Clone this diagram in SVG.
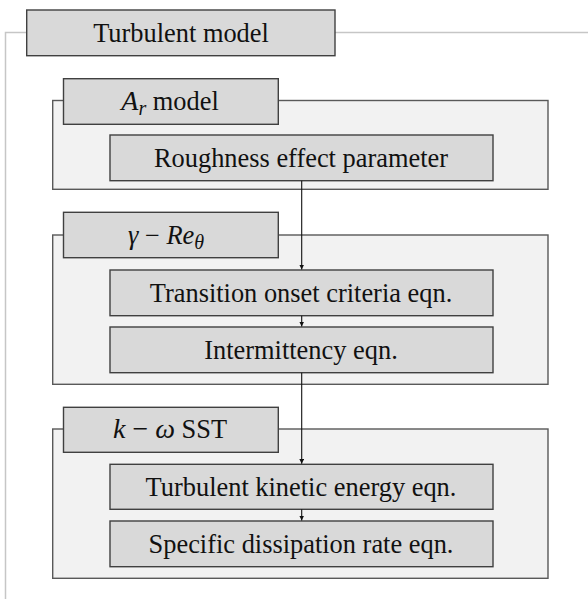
<svg xmlns="http://www.w3.org/2000/svg" width="588" height="599" viewBox="0 0 588 599">
<style>
.frame{fill:none;stroke:#c6c6c6;stroke-width:1.5}
.cont{fill:#f2f2f2;stroke:#595959;stroke-width:1.4}
.box{fill:#d9d9d9;stroke:#404040;stroke-width:1.4}
text{font-family:"Liberation Serif","Times New Roman",serif;font-size:26.4px;fill:#111;text-anchor:middle}
.m{font-style:italic}
.conn{stroke:#111;stroke-width:1.1;fill:none}
</style>
<defs>
<marker id="ah" viewBox="0 0 8 8" refX="8" refY="4" markerWidth="5" markerHeight="5" markerUnits="userSpaceOnUse" orient="auto">
<path d="M0,0 L8,4 L0,8 z" fill="#111"/>
</marker>
</defs>
<path class="frame" d="M588,32.5 H5.5 V599"/>
<g id="title">
<rect class="box" x="26.7" y="10" width="308.3" height="45.7"/>
<text x="181" y="42">Turbulent model</text>
</g>
<g id="ar-group">
<rect class="cont" x="52.7" y="100.5" width="495.3" height="88.8"/>
<rect class="box" x="63.5" y="78.7" width="214.8" height="45.6"/>
<text x="170" y="110"><tspan class="m" font-size="28">A</tspan><tspan class="m" font-size="20" dy="5">r</tspan><tspan dy="-5"> model</tspan></text>
</g>
<g id="roughness">
<rect class="box" x="110" y="135" width="383" height="45.7"/>
<text x="301" y="167">Roughness effect parameter</text>
</g>
<g id="gamma-group">
<rect class="cont" x="52.7" y="235" width="495.3" height="149.3"/>
<rect class="box" x="63.5" y="212.3" width="214.8" height="45.4"/>
<text x="166" y="244" font-size="28"><tspan class="m">γ</tspan><tspan> − </tspan><tspan class="m">Re</tspan><tspan class="m" font-size="20" dy="5">θ</tspan></text>
</g>
<g id="transition">
<rect class="box" x="110" y="270" width="383" height="45.7"/>
<text x="301" y="302">Transition onset criteria eqn.</text>
</g>
<g id="intermittency">
<rect class="box" x="110" y="327" width="383" height="45.7"/>
<text x="301" y="359">Intermittency eqn.</text>
</g>
<g id="kw-group">
<rect class="cont" x="52.7" y="429" width="495.3" height="149.3"/>
<rect class="box" x="63.5" y="407.3" width="214.8" height="45"/>
<text x="170" y="438"><tspan class="m" font-size="28">k</tspan><tspan font-size="28"> − </tspan><tspan class="m" font-size="28">ω</tspan><tspan> SST</tspan></text>
</g>
<g id="tke">
<rect class="box" x="110" y="464.3" width="383" height="45"/>
<text x="301" y="496">Turbulent kinetic energy eqn.</text>
</g>
<g id="sdr">
<rect class="box" x="110" y="521" width="383" height="45.7"/>
<text x="301" y="553">Specific dissipation rate eqn.</text>
</g>
<g id="connectors">
<line class="conn" x1="301.7" y1="180.7" x2="301.7" y2="269.5" marker-end="url(#ah)"/>
<line class="conn" x1="301.7" y1="315.7" x2="301.7" y2="326.5" marker-end="url(#ah)"/>
<line class="conn" x1="301.7" y1="372.7" x2="301.7" y2="463.8" marker-end="url(#ah)"/>
<line class="conn" x1="301.7" y1="509.3" x2="301.7" y2="520.5" marker-end="url(#ah)"/>
</g>
</svg>
